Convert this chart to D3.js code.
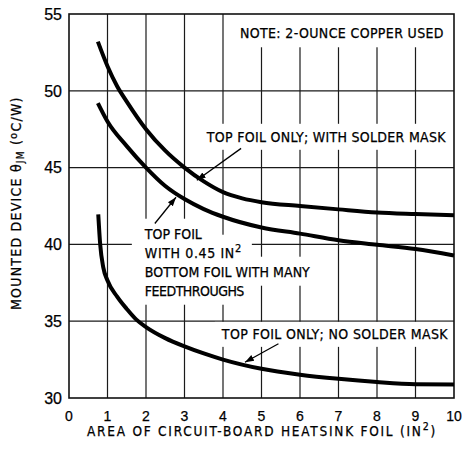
<!DOCTYPE html>
<html><head><meta charset="utf-8">
<script src="https://cdn.jsdelivr.net/npm/d3@7"></script>
<style>
body{margin:0;background:#fff}
svg{display:block}
text{font-family:"Liberation Sans",Arial,sans-serif;fill:#000;stroke:#000;stroke-width:0.25px}
.lbl, .lbl text{font-family:"Liberation Sans Narrow","DejaVu Sans Condensed","Liberation Sans",sans-serif}
</style>
</head><body>
<svg id="c" width="464" height="453"></svg>
<script>
// ---- data ----
const xTicks = [0,1,2,3,4,5,6,7,8,9,10];
const yTicks = [30,35,40,45,50,55];
const maskX  = [0.75,1.0,1.25,1.5,2.0,2.5,3.0,3.5,4.0,4.5,5.0,6.0,7.0,8.0,9.0,10.0];
const maskY  = [53.2,51.6,50.3,49.3,47.5,46.1,45.0,44.1,43.4,43.0,42.75,42.5,42.28,42.08,41.98,41.9];
const feedX  = [0.75,1.0,1.5,2.0,2.5,3.0,3.5,4.0,5.0,6.0,7.0,8.0,9.0,10.0];
const feedY  = [49.2,48.0,46.4,45.0,43.8,42.95,42.3,41.8,41.1,40.7,40.27,39.98,39.7,39.28];
const noMaskX = [0.76,0.81,0.89,1.0,1.25,1.5,1.75,2.0,2.5,3.0,3.5,4.0,5.0,6.0,7.0,8.0,9.0,10.0];
const noMaskY = [41.95,40.0,38.5,37.65,36.6,35.8,35.1,34.62,33.9,33.36,32.9,32.5,31.9,31.52,31.25,31.04,30.9,30.88];

// ---- layout ----
const W = 464, H = 453;
const m = {l:69, r:10, t:14, b:55};
const svg = d3.select("#c");
const x = d3.scaleLinear().domain([0,10]).range([m.l, W-m.r]);
const y = d3.scaleLinear().domain([30,55]).range([H-m.b, m.t]);

// grid
const grid = svg.append("g").attr("stroke","#1a1a1a").attr("stroke-width",1.2);
grid.selectAll(".v").data(xTicks.slice(1,-1)).join("line")
  .attr("x1",d=>x(d)).attr("x2",d=>x(d)).attr("y1",y(55)).attr("y2",y(30));
grid.selectAll(".h").data(yTicks.slice(1,-1)).join("line")
  .attr("x1",x(0)).attr("x2",x(10)).attr("y1",d=>y(d)).attr("y2",d=>y(d));

// annotation layer (white boxes hide grid)
const boxLayer = svg.append("g");
const textLayer = svg.append("g").attr("font-size",14).attr("class","lbl");

function fit(t, target){
  const n = t.node();
  const w = n.getComputedTextLength();
  const chars = n.textContent.length;
  t.attr("letter-spacing", (target - w)/(chars));
}
function boxFor(t, padL, padR, padT, padB){
  const bb = t.node().getBBox();
  boxLayer.append("rect")
    .attr("x", bb.x - padL).attr("y", bb.y - padT)
    .attr("width", bb.width + padL + padR).attr("height", bb.height + padT + padB)
    .attr("fill","#fff");
}

// note
const note = textLayer.append("text").attr("x",x(4.44)).attr("y",y(53.42)).text("NOTE: 2-OUNCE COPPER USED");
fit(note, 204);
boxFor(note, 6, 20, 14, 6);

// with solder mask label
const lm = textLayer.append("text").attr("x",x(3.58)).attr("y",y(46.68)).text("TOP FOIL ONLY; WITH SOLDER MASK");
fit(lm, 239);
boxFor(lm, 4, 12, 5, 5);

// feedthrough block
const blockLines = [["TOP FOIL",null,57],["WITH 0.45 IN","2",97],["BOTTOM FOIL WITH MANY",null,165],["FEEDTHROUGHS",null,99]];
blockLines.forEach((bl,i)=>{
  const t = textLayer.append("text").attr("x",x(1.97)).attr("y",y(40.37)+i*19);
  t.append("tspan").text(bl[0]);
  if (bl[1]) t.append("tspan").attr("dy",-6).attr("font-size",11).text(bl[1]);
  fit(t, bl[2]);
  boxFor(t, 12, 10, 7, 6);
});

// no solder mask label
const ln = textLayer.append("text").attr("x",x(3.97)).attr("y",y(33.85)).text("TOP FOIL ONLY; NO SOLDER MASK");
fit(ln, 226);
boxFor(ln, 6, 20, 4, 5);

// frame
svg.append("rect").attr("x",x(0)).attr("y",y(55)).attr("width",x(10)-x(0)).attr("height",y(30)-y(55))
  .attr("fill","none").attr("stroke","#111").attr("stroke-width",1.6);

// curves
const line = d3.line().x(d=>x(d[0])).y(d=>y(d[1])).curve(d3.curveMonotoneX);
const series = [[maskX,maskY],[feedX,feedY],[noMaskX,noMaskY]];
svg.append("g").selectAll("path").data(series).join("path")
  .attr("d",s=>line(s[0].map((v,i)=>[v,s[1][i]])))
  .attr("fill","none").attr("stroke","#000").attr("stroke-width",4).attr("stroke-linecap","butt");

// arrows
svg.append("defs").append("marker").attr("id","ah").attr("viewBox","0 0 10 10")
  .attr("refX",10).attr("refY",5).attr("markerWidth",9).attr("markerHeight",9).attr("orient","auto")
  .attr("markerUnits","userSpaceOnUse")
  .append("path").attr("d","M0,1.5 L10,5 L0,8.5 Z").attr("fill","#000");
const arrows = [[4.47,46.25,3.32,44.18],[2.23,41.36,2.78,43.07],[5.44,33.53,4.57,32.33]];
svg.append("g").selectAll("line").data(arrows).join("line")
  .attr("x1",d=>x(d[0])).attr("y1",d=>y(d[1])).attr("x2",d=>x(d[2])).attr("y2",d=>y(d[3]))
  .attr("stroke","#000").attr("stroke-width",1.3).attr("marker-end","url(#ah)");

// tick labels
svg.append("g").attr("font-size",16).attr("text-anchor","end")
  .selectAll("text").data(yTicks).join("text")
  .attr("x",62).attr("y",d=>y(d)).attr("dy","0.36em").text(d=>d);
svg.append("g").attr("font-size",14).attr("text-anchor","middle")
  .selectAll("text").data(xTicks).join("text")
  .attr("x",d=>x(d)).attr("y",420.5).text(d=>d);

// axis titles
const xt = svg.append("text").attr("class","lbl").attr("x",87).attr("y",436).attr("font-size",13.5);
xt.append("tspan").text("AREA OF CIRCUIT-BOARD HEATSINK FOIL (IN");
xt.append("tspan").attr("dy",-6).attr("font-size",10.5).text("2");
xt.append("tspan").attr("dy",6).text(")");
fit(xt, 350);

const yt = svg.append("text").attr("class","lbl").attr("transform","translate(20.5,310) rotate(-90)").attr("font-size",14);
yt.append("tspan").text("MOUNTED DEVICE \u03b8");
yt.append("tspan").attr("dy",3).attr("font-size",10).text("JM");
yt.append("tspan").attr("dy",-3).text("  (");
yt.append("tspan").attr("dy",-4).attr("font-size",11).text("o");
yt.append("tspan").attr("dy",4).text("C/W)");
fit(yt, 215);
</script>
</body></html>
